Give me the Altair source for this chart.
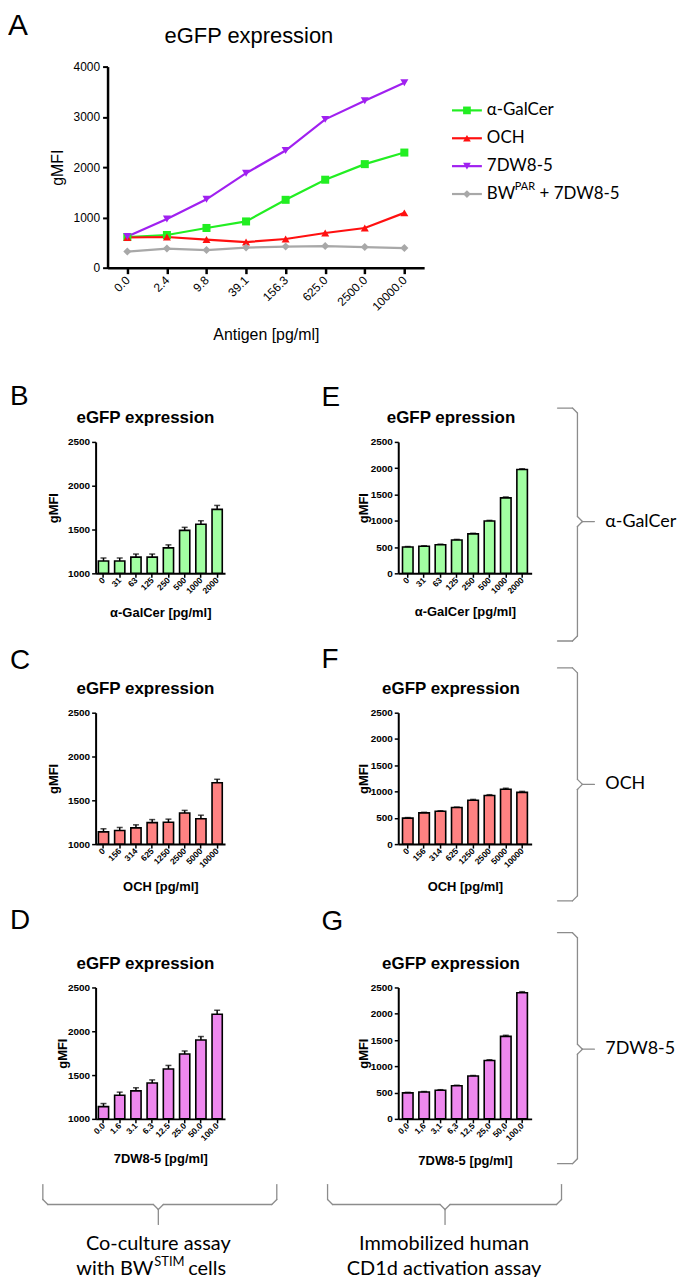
import altair as alt
import pandas as pd

ARIAL = "Liberation Sans"
CAL = "Lato"

# ---------------- Panel A data ----------------
conc_A = ["0.0", "2.4", "9.8", "39.1", "156.3", "625.0", "2500.0", "10000.0"]
series_A = ["α-GalCer", "OCH", "7DW8-5", "BW(PAR) + 7DW8-5"]
legend_labels = ["α-GalCer", "OCH", "7DW8-5", "BW"]
galcer_A = [610, 650, 790, 920, 1350, 1750, 2060, 2290]
och_A = [600, 610, 560, 510, 570, 690, 790, 1090]
dw_A = [620, 970, 1360, 1880, 2330, 2950, 3320, 3680]
bw_A = [320, 380, 350, 400, 420, 430, 410, 390]
colors_A = ["#22EE22", "#FF1010", "#A020F0", "#A8A8A8"]
shapes_A = ["square", "triangle-up", "triangle-down", "diamond"]

# ---------------- Bar panel data ----------------
B_cats = ["0", "31", "63", "125", "250", "500", "1000", "2000"]
B_vals = [1140, 1140, 1185, 1185, 1290, 1490, 1560, 1730]
B_errs = [35, 35, 35, 35, 35, 35, 40, 45]
C_cats = ["0", "156", "314", "625", "1250", "2500", "5000", "10000"]
C_vals = [1140, 1155, 1185, 1245, 1250, 1355, 1290, 1700]
C_errs = [35, 35, 35, 35, 35, 30, 40, 40]
D_cats = ["0.0", "1.6", "3.1", "6.3", "12.5", "25.0", "50.0", "100.0"]
D_vals = [1140, 1270, 1320, 1410, 1570, 1740, 1900, 2195]
D_errs = [35, 35, 35, 35, 40, 35, 40, 45]
E_cats = ["0", "31", "63", "125", "250", "500", "1000", "2000"]
E_vals = [500, 515, 545, 635, 750, 995, 1435, 1975]
E_errs = [10, 10, 10, 10, 12, 12, 18, 15]
F_cats = ["0", "156", "314", "625", "1250", "2500", "5000", "10000"]
F_vals = [495, 595, 625, 695, 835, 925, 1045, 985]
F_errs = [10, 10, 10, 10, 15, 15, 18, 18]
G_cats = ["0,0", "1,6", "3,1", "6,3", "12,5", "25,0", "50,0", "100,0"]
G_vals = [495, 510, 545, 630, 815, 1110, 1570, 2400]
G_errs = [10, 10, 10, 10, 10, 15, 20, 20]

GREEN_BAR = "#A2FFA2"
RED_BAR = "#FF8282"
PURPLE_BAR = "#EE88EE"
BRACE = "#8C8C8C"

ONE = pd.DataFrame({"k": [0]})
NOVIEW = alt.ViewBackground(stroke="transparent", strokeWidth=0)


def txt(s, x, y, size, font=ARIAL, weight="normal", align="left",
        baseline="alphabetic"):
    return alt.Chart(pd.DataFrame({"t": [s]})).mark_text(
        align=align, baseline=baseline, font=font, fontSize=size,
        fontWeight=weight, color="black"
    ).encode(text="t:N", x=alt.value(x), y=alt.value(y))


def seg(x, y, x2, y2, color=BRACE, w=1.3):
    return alt.Chart(ONE).mark_rule(color=color, strokeWidth=w, strokeCap="round").encode(
        x=alt.value(x), y=alt.value(y), x2=alt.value(x2), y2=alt.value(y2))


def vbrace(xl, xv, xt, t, m, b, r=5):
    return [
        seg(xl, t, xv - r, t), seg(xv - r, t, xv, t + r), seg(xv, t + r, xv, m - r),
        seg(xv, m - r, xv + r, m), seg(xv + r, m, xt, m), seg(xv + r, m, xv, m + r),
        seg(xv, m + r, xv, b - r), seg(xv, b - r, xv - r, b), seg(xv - r, b, xl, b),
    ]


def hbrace(xl, xr, t, h, xm, tip, r=5):
    return [
        seg(xl, t, xl, h - r), seg(xl, h - r, xl + r, h), seg(xl + r, h, xm - r, h),
        seg(xm - r, h, xm, h + r), seg(xm, h + r, xm, tip), seg(xm + r, h, xm, h + r),
        seg(xm + r, h, xr - r, h), seg(xr - r, h, xr, h - r), seg(xr, h - r, xr, t),
    ]


H = 132


def bar_panel(cats, vals, errs, fill, ydom, yticks, width, pin, pout, xtitle,
              title, ytx, xty, title_x, letter, lx, ly, extras):
    df = pd.DataFrame({"c": cats, "v": vals, "e": errs})
    base = alt.Chart(df).transform_calculate(top="datum.v + datum.e")
    xaxis = alt.Axis(
        orient="bottom",
        title=xtitle, titleFont=ARIAL, titleFontSize=13, titleFontWeight="bold",
        titleColor="black", titleX=width / 2, titleY=xty, titleBaseline="middle",
        titleAlign="center", labelAngle=-45, labelAlign="right", labelBaseline="middle",
        labelFont=ARIAL, labelFontSize=8.5, labelFontWeight="bold", labelColor="black",
        labelPadding=1, labelOverlap=False, tickSize=4, tickWidth=1.5, tickColor="black",
        domainWidth=2, domainColor="black", grid=False)
    yaxis = alt.Axis(
        orient="left",
        values=yticks, tickCount=len(yticks), format="d", title="gMFI", titleFont=ARIAL,
        titleFontSize=13,
        titleFontWeight="bold", titleColor="black", titleX=ytx, titleY=H / 2,
        titleAngle=270, titleBaseline="middle", titleAlign="center",
        labelFont=ARIAL, labelFontSize=10, labelFontWeight="bold", labelColor="black",
        labelPadding=2, labelOverlap=False, tickSize=4, tickWidth=1.5, tickColor="black",
        domainWidth=2, domainColor="black", grid=False)
    xs = alt.Scale(paddingInner=pin, paddingOuter=pout)
    ys = alt.Scale(domain=ydom, nice=False, zero=False)
    xenc = alt.X("c:N", sort=cats, scale=xs, axis=xaxis)
    bars = base.mark_bar(fill=fill, stroke="black", strokeWidth=1.6).encode(
        x=xenc, y=alt.Y("v:Q", scale=ys, axis=yaxis), y2=alt.datum(ydom[0]))
    err = base.mark_rule(color="black", strokeWidth=1.5).encode(
        x=xenc, y=alt.Y("v:Q", scale=ys, axis=yaxis), y2="top:Q")
    cap = base.mark_tick(color="black", thickness=1.5, size=6).encode(
        x=xenc, y=alt.Y("top:Q", scale=ys, axis=yaxis))
    layers = [bars, err, cap,
              txt(title, title_x, -18.5, 17, ARIAL, "bold", "center"),
              txt(letter, lx, ly, 28)] + extras
    return alt.layer(*layers).properties(width=width, height=H, view=NOVIEW)


# ---------------- Panel A ----------------
rows = []
for s, vals in zip(series_A, [galcer_A, och_A, dw_A, bw_A]):
    for c, v in zip(conc_A, vals):
        rows.append({"conc": c, "series": s, "value": v})
dfA = pd.DataFrame(rows)

WA, HA = 318, 202
xA = alt.X("conc:N", sort=conc_A, scale=alt.Scale(padding=0.5), axis=alt.Axis(
    orient="bottom",
    title="Antigen [pg/ml]", titleFont=ARIAL, titleFontSize=16, titleFontWeight="normal",
    titleColor="black", titleX=WA / 2, titleY=67, titleBaseline="middle", titleAlign="center",
    labelAngle=-45, labelAlign="right", labelBaseline="middle", labelFont=ARIAL,
    labelFontSize=12, labelColor="black", labelPadding=4, labelOverlap=False, tickSize=6,
    tickWidth=2.5, tickColor="black", domainWidth=2.5, domainColor="black", grid=False))
yA = alt.Y("value:Q", scale=alt.Scale(domain=[0, 4000], nice=False), axis=alt.Axis(
    orient="left",
    values=[0, 1000, 2000, 3000, 4000], format="d", title="gMFI", titleFont=ARIAL,
    titleFontSize=16, titleFontWeight="normal", titleColor="black", titleX=-50,
    titleY=HA / 2, titleAngle=270, titleBaseline="middle", titleAlign="center",
    labelFont=ARIAL, labelFontSize=12, labelColor="black", labelPadding=3,
    labelOverlap=False, tickSize=5,
    tickWidth=2, tickColor="black", domainWidth=2.5, domainColor="black", grid=False))
colA = alt.Color("series:N", scale=alt.Scale(domain=series_A, range=colors_A), legend=None)
shpA = alt.Shape("series:N", scale=alt.Scale(domain=series_A, range=shapes_A), legend=None)

linesA = alt.Chart(dfA).mark_line(strokeWidth=2.2).encode(x=xA, y=yA, color=colA)
ptsA = alt.Chart(dfA).mark_point(filled=True, size=65, opacity=1).encode(
    x=xA, y=yA, color=colA, shape=shpA)

legdf = pd.DataFrame({"series": series_A, "lab": legend_labels,
                      "idx": list(range(len(series_A)))})
ly = alt.Y("idx:Q", scale=alt.Scale(domain=[0, len(series_A) - 1], range=[44, 128]),
           axis=None)
leg_rule = alt.Chart(legdf).mark_rule(strokeWidth=2.2).encode(
    x=alt.value(346), x2=alt.value(376), y=ly, color=colA)
leg_pt = alt.Chart(legdf).mark_point(filled=True, size=60, opacity=1).encode(
    x=alt.value(361), y=ly, color=colA, shape=shpA)
leg_txt = alt.Chart(legdf).mark_text(
    align="left", baseline="middle", font=CAL, fontSize=17, color="black").encode(
    x=alt.value(381), y=ly, text="lab:N")
legend = alt.layer(leg_rule, leg_pt, leg_txt)

chartA = alt.layer(
    alt.layer(linesA, ptsA), legend,
    txt("eGFP expression", 142, -24, 22, ARIAL, "normal", "center"),
    txt("A", -100, -56, 30, baseline="top"),
    txt("PAR", 409, 121, 11, CAL, baseline="middle"),
    txt("+ 7DW8-5", 434, 128, 17, CAL, baseline="middle"),
).resolve_scale(y="independent").properties(width=WA, height=HA, view=NOVIEW)


def spacer(w, h):
    return alt.Chart(ONE).mark_point(opacity=0, size=0, strokeWidth=0).encode(
        x=alt.value(0), y=alt.value(0)).properties(width=w, height=h, view=NOVIEW)


# ---------------- Bar panels ----------------
WL, WR = 130, 134
B = bar_panel(B_cats, B_vals, B_errs, GREEN_BAR, [1000, 2500], [1000, 1500, 2000, 2500],
              WL, 0.37, 0.17, "α-GalCer [pg/ml]", "eGFP expression", -42, 39, 50,
              "B", -86, -37, [])
C = bar_panel(C_cats, C_vals, C_errs, RED_BAR, [1000, 2500], [1000, 1500, 2000, 2500],
              WL, 0.37, 0.17, "OCH [pg/ml]", "eGFP expression", -42, 43, 50,
              "C", -86, -44, [])
D_extra = hbrace(-53, 182, 198, 218, 63, 238) + [
    txt("Co-culture assay", 63, 258, 20, CAL, baseline="middle", align="center"),
    txt("with BW", 58, 283, 20, CAL, baseline="middle", align="right"),
    txt("STIM", 59, 276, 13, CAL, baseline="middle", align="left"),
    txt("cells", 93, 283, 20, CAL, baseline="middle", align="left"),
]
D = bar_panel(D_cats, D_vals, D_errs, PURPLE_BAR, [1000, 2500], [1000, 1500, 2000, 2500],
              WL, 0.37, 0.17, "7DW8-5 [pg/ml]", "eGFP expression", -33, 40, 50,
              "D", -86, -59, D_extra)

E_extra = vbrace(160, 180, 197, -34, 80, 200) + [
    txt("α-GalCer", 208, 80, 18, CAL, baseline="middle")]
E = bar_panel(E_cats, E_vals, E_errs, GREEN_BAR, [0, 2500], [0, 500, 1000, 1500, 2000, 2500],
              WR, 0.355, 0.26, "α-GalCer [pg/ml]", "eGFP epression", -34.5, 38, 53,
              "E", -77, -36, E_extra)
F_extra = vbrace(160, 180, 197, -45, 72, 189) + [
    txt("OCH", 208, 72, 18, CAL, baseline="middle")]
F = bar_panel(F_cats, F_vals, F_errs, RED_BAR, [0, 2500], [0, 500, 1000, 1500, 2000, 2500],
              WR, 0.355, 0.26, "OCH [pg/ml]", "eGFP expression", -34.5, 43, 53,
              "F", -77, -45, F_extra)
G_extra = vbrace(160, 180, 197, -55, 62, 177) + [
    txt("7DW8-5", 208, 62, 18, CAL, baseline="middle")] + hbrace(-71, 164, 198, 218, 47, 238) + [
    txt("Immobilized human", 46, 258, 20, CAL, baseline="middle", align="center"),
    txt("CD1d activation assay", 46, 283, 20, CAL, baseline="middle", align="center"),
]
G = bar_panel(G_cats, G_vals, G_errs, PURPLE_BAR, [0, 2500], [0, 500, 1000, 1500, 2000, 2500],
              WR, 0.355, 0.26, "7DW8-5 [pg/ml]", "eGFP expression", -34.5, 42, 53,
              "G", -77, -58, G_extra)

# Nested rows contribute no height in a flush layout, so vertical
# distances between rows are set by the spacer heights.
rowA = alt.hconcat(spacer(12, 10), chartA, spacing=0, bounds="flush")
rowB = alt.hconcat(B, E, spacing=174, bounds="flush")
rowC = alt.hconcat(C, F, spacing=174, bounds="flush")
rowD = alt.hconcat(D, G, spacing=174, bounds="flush")

chart = alt.vconcat(
    rowA, spacer(1, HA + 175), rowB, spacer(1, H + 140), rowC, spacer(1, H + 144), rowD,
    spacing=0, bounds="flush", padding=0,
).configure_view(stroke="transparent", strokeWidth=0).configure(background="white")

chart.save("out.html", embed_options={"renderer": "svg", "actions": False})
